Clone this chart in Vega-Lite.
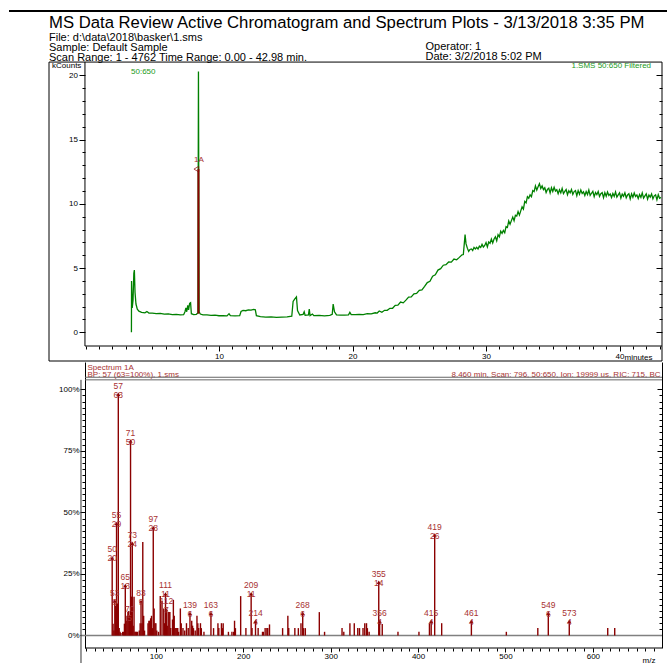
{
"$schema": "https://vega.github.io/schema/vega-lite/v6.json",
"padding": {"left": 8, "top": 10, "right": 0, "bottom": 0},
"spacing": 0,
"align": "each",
"config": {"font": "Liberation Sans", "view": {"stroke": null},
  "axis": {"labelFont": "Liberation Sans", "titleFont": "Liberation Sans", "labelColor": "black", "titleColor": "black", "tickColor": "black", "domainColor": "black", "grid": false, "labelOverlap": false, "labelBound": false, "labelFlush": false, "titleFontWeight": "normal", "labelFontSize": 8, "titleFontSize": 8, "tickWidth": 1}},
"datasets": {
"chrom": [
{"t":3.44,"k":0.0},{"t":3.45,"k":4.0},{"t":3.50,"k":1.9},{"t":3.56,"k":2.5},{"t":3.62,"k":4.6},{"t":3.66,"k":4.85},{"t":3.71,"k":3.1},{"t":3.78,"k":2.2},{"t":3.88,"k":1.8},{"t":4.0,"k":1.65},{"t":4.2,"k":1.55},{"t":4.45,"k":1.52},{"t":4.6,"k":1.62},{"t":4.75,"k":1.5},{"t":5.0,"k":1.5},{"t":5.3,"k":1.46},{"t":5.6,"k":1.48},{"t":5.9,"k":1.42},{"t":6.2,"k":1.43},{"t":6.5,"k":1.38},{"t":6.8,"k":1.4},{"t":7.1,"k":1.36},{"t":7.35,"k":1.37},{"t":7.45,"k":1.6},{"t":7.52,"k":1.9},{"t":7.58,"k":1.6},{"t":7.66,"k":2.1},{"t":7.72,"k":1.75},{"t":7.8,"k":2.25},{"t":7.87,"k":2.3},{"t":7.93,"k":1.45},{"t":8.1,"k":1.38},{"t":8.3,"k":1.4},{"t":8.42,"k":1.5},{"t":8.46,"k":20.3},{"t":8.51,"k":1.6},{"t":8.6,"k":1.42},{"t":8.8,"k":1.36},{"t":9.1,"k":1.35},{"t":9.4,"k":1.32},{"t":9.7,"k":1.33},{"t":10.0,"k":1.29},{"t":10.3,"k":1.3},{"t":10.6,"k":1.28},{"t":10.75,"k":1.45},{"t":10.85,"k":1.3},{"t":11.2,"k":1.28},{"t":11.55,"k":1.3},{"t":11.65,"k":1.62},{"t":11.8,"k":1.7},{"t":12.0,"k":1.68},{"t":12.2,"k":1.74},{"t":12.4,"k":1.72},{"t":12.6,"k":1.78},{"t":12.72,"k":1.75},{"t":12.8,"k":1.3},{"t":13.1,"k":1.22},{"t":13.5,"k":1.18},{"t":13.9,"k":1.2},{"t":14.3,"k":1.16},{"t":14.7,"k":1.18},{"t":15.1,"k":1.2},{"t":15.45,"k":1.25},{"t":15.55,"k":2.4},{"t":15.68,"k":2.6},{"t":15.8,"k":2.75},{"t":15.88,"k":1.7},{"t":16.05,"k":1.35},{"t":16.3,"k":1.4},{"t":16.38,"k":1.6},{"t":16.45,"k":1.32},{"t":16.7,"k":1.35},{"t":16.76,"k":1.8},{"t":16.82,"k":1.3},{"t":17.0,"k":1.42},{"t":17.1,"k":1.3},{"t":17.5,"k":1.32},{"t":17.9,"k":1.28},{"t":18.3,"k":1.32},{"t":18.48,"k":1.4},{"t":18.55,"k":2.2},{"t":18.65,"k":1.6},{"t":18.8,"k":1.36},{"t":19.1,"k":1.33},{"t":19.4,"k":1.34},{"t":19.7,"k":1.36},{"t":19.8,"k":1.55},{"t":19.9,"k":1.38},{"t":20.2,"k":1.37},{"t":20.5,"k":1.4},{"t":20.8,"k":1.38},{"t":21.1,"k":1.45},{"t":21.4,"k":1.43},{"t":21.7,"k":1.52},{"t":21.85,"k":1.5},
{"t":22.0,"k":1.66},{"t":22.2,"k":1.56},{"t":22.4,"k":1.71},{"t":22.6,"k":1.71},{"t":22.8,"k":1.87},{"t":23.0,"k":1.87},{"t":23.2,"k":2.10},{"t":23.4,"k":2.11},{"t":23.6,"k":2.35},{"t":23.8,"k":2.29},{"t":24.0,"k":2.50},{"t":24.2,"k":2.74},{"t":24.4,"k":2.76},{"t":24.6,"k":2.99},{"t":24.8,"k":3.03},{"t":25.0,"k":3.27},{"t":25.2,"k":3.30},{"t":25.4,"k":3.57},{"t":25.6,"k":3.87},{"t":25.8,"k":3.97},{"t":26.0,"k":4.37},{"t":26.2,"k":4.48},{"t":26.4,"k":4.84},{"t":26.6,"k":4.95},{"t":26.8,"k":5.22},{"t":27.0,"k":5.26},{"t":27.2,"k":5.47},{"t":27.4,"k":5.46},{"t":27.6,"k":5.70},{"t":27.8,"k":5.64},{"t":28.0,"k":5.83},{"t":28.2,"k":6.03},{"t":28.3,"k":6.05},{"t":28.38,"k":7.0},{"t":28.43,"k":7.6},{"t":28.5,"k":6.9},{"t":28.6,"k":6.55},{"t":28.7,"k":6.3},{"t":28.8,"k":6.45},
{"t":28.9,"k":6.49},{"t":29.0,"k":6.37},{"t":29.1,"k":6.61},{"t":29.2,"k":6.49},{"t":29.3,"k":6.61},{"t":29.4,"k":6.48},{"t":29.5,"k":6.70},{"t":29.6,"k":6.60},{"t":29.7,"k":6.84},{"t":29.8,"k":6.63},{"t":29.9,"k":6.76},{"t":30.0,"k":6.99},{"t":30.1,"k":6.65},{"t":30.2,"k":7.03},{"t":30.3,"k":6.93},{"t":30.4,"k":7.25},{"t":30.5,"k":6.95},{"t":30.6,"k":7.26},{"t":30.7,"k":7.43},{"t":30.8,"k":7.12},{"t":30.9,"k":7.60},{"t":31.0,"k":7.43},{"t":31.1,"k":7.87},{"t":31.2,"k":7.70},{"t":31.3,"k":7.93},{"t":31.4,"k":7.75},{"t":31.5,"k":8.23},{"t":31.6,"k":8.16},{"t":31.7,"k":8.67},{"t":31.8,"k":8.41},{"t":31.9,"k":8.69},{"t":32.0,"k":8.97},{"t":32.1,"k":8.68},{"t":32.2,"k":9.10},{"t":32.3,"k":9.04},{"t":32.4,"k":9.40},{"t":32.5,"k":9.12},{"t":32.6,"k":9.45},{"t":32.7,"k":9.76},{"t":32.8,"k":9.59},{"t":32.9,"k":10.19},{"t":33.0,"k":10.07},{"t":33.1,"k":10.55},{"t":33.2,"k":10.43},{"t":33.3,"k":10.70},{"t":33.4,"k":10.56},{"t":33.5,"k":11.03},{"t":33.6,"k":10.95},{"t":33.7,"k":11.39},{"t":33.8,"k":11.07},{"t":33.9,"k":11.33},{"t":34.0,"k":11.57},{"t":34.1,"k":11.19},{"t":34.2,"k":11.39},{"t":34.3,"k":11.11},{"t":34.4,"k":11.25},{"t":34.5,"k":10.88},{"t":34.6,"k":11.12},{"t":34.7,"k":11.22},{"t":34.8,"k":10.84},{"t":34.9,"k":11.25},{"t":35.0,"k":10.96},{"t":35.1,"k":11.28},{"t":35.2,"k":10.99},{"t":35.3,"k":11.09},{"t":35.4,"k":10.79},{"t":35.5,"k":11.09},{"t":35.6,"k":10.85},{"t":35.7,"k":11.20},{"t":35.8,"k":10.79},{"t":35.9,"k":10.96},{"t":36.0,"k":11.11},{"t":36.1,"k":10.71},{"t":36.2,"k":11.02},{"t":36.3,"k":10.86},{"t":36.4,"k":11.11},{"t":36.5,"k":10.73},{"t":36.6,"k":10.95},{"t":36.7,"k":11.03},{"t":36.8,"k":10.63},{"t":36.9,"k":11.03},{"t":37.0,"k":10.75},{"t":37.1,"k":11.08},{"t":37.2,"k":10.80},{"t":37.3,"k":10.93},{"t":37.4,"k":10.64},{"t":37.5,"k":10.95},{"t":37.6,"k":10.72},{"t":37.7,"k":11.07},{"t":37.8,"k":10.66},{"t":37.9,"k":10.82},{"t":38.0,"k":10.97},{"t":38.1,"k":10.56},{"t":38.2,"k":10.88},{"t":38.3,"k":10.71},{"t":38.4,"k":10.96},{"t":38.5,"k":10.57},{"t":38.6,"k":10.79},{"t":38.7,"k":10.87},{"t":38.8,"k":10.48},{"t":38.9,"k":10.87},{"t":39.0,"k":10.59},{"t":39.1,"k":10.92},{"t":39.2,"k":10.65},{"t":39.3,"k":10.77},{"t":39.4,"k":10.49},{"t":39.5,"k":10.80},{"t":39.6,"k":10.58},{"t":39.7,"k":10.93},{"t":39.8,"k":10.52},{"t":39.9,"k":10.69},{"t":40.0,"k":10.85},{"t":40.1,"k":10.44},{"t":40.2,"k":10.76},{"t":40.3,"k":10.59},{"t":40.4,"k":10.85},{"t":40.5,"k":10.47},{"t":40.6,"k":10.69},{"t":40.7,"k":10.78},{"t":40.8,"k":10.38},{"t":40.9,"k":10.78},{"t":41.0,"k":10.51},{"t":41.1,"k":10.84},{"t":41.2,"k":10.57},{"t":41.3,"k":10.69},{"t":41.4,"k":10.41},{"t":41.5,"k":10.72},{"t":41.6,"k":10.50},{"t":41.7,"k":10.85},{"t":41.8,"k":10.44},{"t":41.9,"k":10.61},{"t":42.0,"k":10.77},{"t":42.1,"k":10.36},{"t":42.2,"k":10.68},{"t":42.3,"k":10.52},{"t":42.4,"k":10.77},{"t":42.5,"k":10.39},{"t":42.6,"k":10.62},{"t":42.7,"k":10.70},{"t":42.8,"k":10.31},{"t":42.9,"k":10.71},{"t":43.0,"k":10.43},{"t":43.1,"k":10.5}
],
"spec": [
{"mz":50,"pct":31.5,"label":"50\n20"},{"mz":51,"pct":4.8},{"mz":52,"pct":2},{"mz":53,"pct":14,"label":"53\n9"},{"mz":54,"pct":12},{"mz":55,"pct":45.5,"label":"55\n29"},{"mz":56,"pct":13},{"mz":57,"pct":98,"label":"57\n63"},{"mz":58,"pct":3},{"mz":59,"pct":1.5},{"mz":60,"pct":1},{"mz":62,"pct":1.5},{"mz":63,"pct":1.5},{"mz":64,"pct":4.8},{"mz":65,"pct":20.3,"label":"65\n13"},{"mz":66,"pct":6},{"mz":67,"pct":8},{"mz":68,"pct":9.5},{"mz":69,"pct":10},{"mz":70,"pct":7.5,"label":"70\n5"},{"mz":71,"pct":79,"label":"71\n50"},{"mz":72,"pct":15.8},{"mz":73,"pct":37.5,"label":"73\n24"},{"mz":74,"pct":4},{"mz":75,"pct":15.7},{"mz":76,"pct":1.5},{"mz":77,"pct":1.5},{"mz":78,"pct":1.5},{"mz":79,"pct":1.5},{"mz":81,"pct":2},{"mz":82,"pct":5},{"mz":83,"pct":13.8,"label":"83\n9"},{"mz":84,"pct":5},{"mz":85,"pct":38},{"mz":86,"pct":8},{"mz":87,"pct":2},{"mz":91,"pct":5},{"mz":92,"pct":6},{"mz":93,"pct":6},{"mz":94,"pct":7},{"mz":95,"pct":8},{"mz":96,"pct":3},{"mz":97,"pct":43.8,"label":"97\n28"},{"mz":98,"pct":11},{"mz":99,"pct":5},{"mz":100,"pct":5},{"mz":101,"pct":2},{"mz":103,"pct":1.5},{"mz":105,"pct":16},{"mz":107,"pct":14},{"mz":109,"pct":11},{"mz":110,"pct":5},{"mz":111,"pct":16.9,"label":"111\n11"},{"mz":112,"pct":10.4,"label":"112\n7"},{"mz":113,"pct":4},{"mz":114,"pct":9.5},{"mz":115,"pct":9.5},{"mz":116,"pct":9.5},{"mz":117,"pct":3},{"mz":119,"pct":6.5},{"mz":120,"pct":14.5},{"mz":121,"pct":8},{"mz":122,"pct":3},{"mz":123,"pct":3},{"mz":124,"pct":3},{"mz":125,"pct":3},{"mz":126,"pct":1.5},{"mz":128,"pct":11},{"mz":129,"pct":5},{"mz":131,"pct":3},{"mz":133,"pct":2},{"mz":135,"pct":5},{"mz":137,"pct":3},{"mz":139,"pct":9,"label":"139\n6"},{"mz":141,"pct":6},{"mz":142,"pct":4},{"mz":143,"pct":3},{"mz":145,"pct":2},{"mz":147,"pct":8},{"mz":148,"pct":5},{"mz":149,"pct":3},{"mz":151,"pct":5},{"mz":152,"pct":3},{"mz":155,"pct":1.5},{"mz":163,"pct":9,"label":"163\n6"},{"mz":166,"pct":3},{"mz":171,"pct":5},{"mz":172,"pct":3},{"mz":175,"pct":5},{"mz":176,"pct":3},{"mz":177,"pct":5},{"mz":183,"pct":1.5},{"mz":187,"pct":1.5},{"mz":189,"pct":1.5},{"mz":190,"pct":6},{"mz":191,"pct":3},{"mz":197,"pct":16},{"mz":203,"pct":3},{"mz":209,"pct":17,"label":"209\n11"},{"mz":210,"pct":3},{"mz":214,"pct":5.8,"label":"214\n4"},{"mz":217,"pct":3},{"mz":222,"pct":1.5},{"mz":223,"pct":1.5},{"mz":225,"pct":3},{"mz":227,"pct":3},{"mz":228,"pct":3},{"mz":230,"pct":4.5},{"mz":245,"pct":3},{"mz":251,"pct":8},{"mz":252,"pct":3},{"mz":259,"pct":3},{"mz":263,"pct":3},{"mz":266,"pct":5},{"mz":268,"pct":9,"label":"268\n6"},{"mz":269,"pct":3},{"mz":271,"pct":3},{"mz":287,"pct":9.5},{"mz":293,"pct":1.5},{"mz":313,"pct":3},{"mz":315,"pct":1.5},{"mz":322,"pct":5},{"mz":327,"pct":5},{"mz":331,"pct":3},{"mz":333,"pct":3},{"mz":337,"pct":3},{"mz":339,"pct":5},{"mz":341,"pct":5},{"mz":342,"pct":3},{"mz":344,"pct":1.5},{"mz":355,"pct":21.6,"label":"355\n14"},{"mz":356,"pct":5.8,"label":"356\n4"},{"mz":359,"pct":4.7},{"mz":377,"pct":1.5},{"mz":401,"pct":1.5},{"mz":413,"pct":5},{"mz":415,"pct":5.8,"label":"415\n4"},{"mz":419,"pct":40.8,"label":"419\n26"},{"mz":427,"pct":5},{"mz":461,"pct":5.8,"label":"461\n4"},{"mz":501,"pct":1.5},{"mz":537,"pct":3},{"mz":549,"pct":9,"label":"549\n6"},{"mz":573,"pct":5.8,"label":"573\n4"},{"mz":617,"pct":3},{"mz":625,"pct":3}
]
},
"vconcat": [
{
 "width": 613, "height": 350,
 "title": {"text": "MS Data Review Active Chromatogram and Spectrum Plots - 3/13/2018 3:35 PM", "subtitle": ["File: d:\\data\\2018\\basker\\1.sms", "Sample: Default Sample", "Scan Range: 1 - 4762 Time Range: 0.00 - 42.98 min."], "anchor": "start", "frame": "group", "offset": -52.5, "font": "Liberation Sans", "fontSize": 16.7, "fontWeight": "normal", "color": "black", "subtitleFont": "Liberation Sans", "subtitleFontSize": 11, "subtitleColor": "black", "subtitleLineHeight": 10, "subtitlePadding": 0},
 "layer": [
  {"data": {"values": [{}]}, "mark": {"type": "rect", "fillOpacity": 0, "stroke": "black", "strokeWidth": 1},
   "encoding": {"x": {"datum": -2.734, "type": "quantitative", "axis": null}, "x2": {"datum": 43.18}, "y": {"datum": -2.233, "type": "quantitative", "axis": null}, "y2": {"datum": 21.03}}},
  {"data": {"values": [{}]}, "mark": {"type": "rule", "color": "black", "strokeWidth": 2},
   "encoding": {"x": {"datum": -5.73, "type": "quantitative", "axis": null}, "x2": {"datum": 43.63}, "y": {"datum": 25.004, "type": "quantitative", "axis": null}}},
  {"data": {"values": [{}]}, "mark": {"type": "rule", "color": "black", "strokeWidth": 1},
   "encoding": {"x": {"datum": -0.04, "type": "quantitative",
     "axis": {"orient": "bottom", "values": [0,1,2,3,4,5,6,7,8,9,10,11,12,13,14,15,16,17,18,19,20,21,22,23,24,25,26,27,28,29,30,31,32,33,34,35,36,37,38,39,40,41,42,43], "offset": -15, "domain": false, "labels": false, "tickSize": 3, "title": null}},
    "x2": {"datum": 43.18}, "y": {"datum": -1.066, "type": "quantitative", "axis": null}}},
  {"data": {"values": [{}]}, "mark": {"type": "rule", "color": "black", "strokeWidth": 1},
   "encoding": {"x": {"datum": -0.04, "type": "quantitative", "axis": null}, "y": {"datum": -1.066, "type": "quantitative", "axis": null}, "y2": {"datum": 21.03}}},
  {"data": {"name": "chrom"}, "mark": {"type": "line", "color": "#008000", "strokeWidth": 1.3},
   "encoding": {
    "x": {"field": "t", "type": "quantitative", "scale": {"domain": [-2.734, 43.18], "nice": false, "zero": false},
      "axis": {"orient": "bottom", "values": [10,20,30,40], "offset": -15, "domain": false, "tickSize": 5, "labelPadding": 1, "title": "minutes", "titleX": 603, "titleY": 13.5, "titleAlign": "right", "titleBaseline": "alphabetic"}},
    "y": {"field": "k", "type": "quantitative", "scale": {"domain": [-2.233, 25.004], "nice": false, "zero": false},
      "axis": {"orient": "left", "values": [0,1,2,3,4,5,6,7,8,9,10,11,12,13,14,15,16,17,18,19,20], "offset": -36, "domain": false, "labelExpr": "datum.value % 5 === 0 ? datum.label : ''", "tickSize": {"condition": {"test": "datum.value % 5 === 0", "value": 6}, "value": 3}, "labelPadding": 1.5, "title": "kCounts", "titleAngle": 0, "titleAlign": "left", "titleBaseline": "alphabetic", "titleX": -33.5, "titleY": 56.5}}
   }},
  {"data": {"values": [{}]}, "mark": {"type": "rule", "color": "#8b0000", "strokeWidth": 2},
   "encoding": {"x": {"datum": 8.46, "type": "quantitative", "axis": null}, "y": {"datum": 1.45, "type": "quantitative",
     "axis": {"orient": "right", "values": [0,1,2,3,4,5,6,7,8,9,10,11,12,13,14,15,16,17,18,19,20], "domain": false, "labels": false, "tickSize": {"condition": {"test": "datum.value % 5 === 0", "value": -6}, "value": -3}, "title": ["Operator: 1", "Date: 3/2/2018 5:02 PM"], "titleAngle": 0, "titleAlign": "left", "titleBaseline": "alphabetic", "titleX": -237, "titleY": 38.5, "titleFontSize": 11, "titleLineHeight": 10}},
    "y2": {"datum": 12.7}}},
  {"data": {"values": [{}]}, "mark": {"type": "point", "shape": "triangle-left", "filled": false, "color": "#8b0000", "size": 30, "strokeWidth": 1},
   "encoding": {"x": {"datum": 8.3, "type": "quantitative", "axis": null}, "y": {"datum": 12.7, "type": "quantitative", "axis": null}}},
  {"data": {"values": [{}]}, "mark": {"type": "text", "text": "1A", "color": "#a83232", "fontSize": 8, "align": "center", "baseline": "alphabetic"},
   "encoding": {"x": {"datum": 8.5, "type": "quantitative", "axis": null}, "y": {"datum": 13.25, "type": "quantitative", "axis": null}}},
  {"data": {"values": [{}]}, "mark": {"type": "text", "text": "50:650", "color": "#1a9a1a", "fontSize": 8, "align": "left", "baseline": "alphabetic"},
   "encoding": {"x": {"datum": 3.41, "type": "quantitative", "axis": null}, "y": {"datum": 20.1, "type": "quantitative", "axis": null}}},
  {"data": {"values": [{}]}, "mark": {"type": "text", "text": "1.SMS 50:650 Filtered", "color": "#1a9a1a", "fontSize": 8, "align": "right", "baseline": "alphabetic"},
   "encoding": {"x": {"datum": 42.36, "type": "quantitative", "axis": null}, "y": {"datum": 20.57, "type": "quantitative", "axis": null}}}
 ],
 "resolve": {"axis": {"y": "independent", "x": "independent"}}
},
{
 "width": 613, "height": 286,
 "layer": [
  {"data": {"values": [{}]}, "mark": {"type": "rule", "color": "#808080", "strokeWidth": 1.5},
   "encoding": {"x": {"datum": 14.3, "type": "quantitative", "axis": null}, "x2": {"datum": 679.1}, "y": {"datum": 0, "type": "quantitative",
     "axis": {"orient": "right", "values": [0,2.5,5,7.5,10,12.5,15,17.5,20,22.5,25,27.5,30,32.5,35,37.5,40,42.5,45,47.5,50,52.5,55,57.5,60,62.5,65,67.5,70,72.5,75,77.5,80,82.5,85,87.5,90,92.5,95,97.5,100], "domain": true, "labels": false, "tickSize": {"condition": {"test": "datum.value % 25 === 0", "value": -5}, "value": -3}, "title": "8.460 min, Scan: 796, 50:650, Ion: 19999 us, RIC: 715, BC", "titleAngle": 0, "titleAlign": "right", "titleBaseline": "alphabetic", "titleX": -2, "titleY": 14.5, "titleColor": "#a83232"}}}},
  {"data": {"values": [{}]}, "mark": {"type": "rule", "color": "#666666", "strokeWidth": 1},
   "encoding": {"x": {"datum": 18.9, "type": "quantitative", "axis": null}, "x2": {"datum": 679.1}, "y": {"datum": 104.9, "type": "quantitative", "axis": null}}},
  {"data": {"values": [{}]}, "mark": {"type": "rule", "color": "#666666", "strokeWidth": 1},
   "encoding": {"x": {"datum": 18.9, "type": "quantitative", "axis": null}, "x2": {"datum": 679.1}, "y": {"datum": 103.85, "type": "quantitative", "axis": null}}},
  {"data": {"values": [{}]}, "mark": {"type": "rule", "color": "#333333", "strokeWidth": 1},
   "encoding": {"x": {"datum": 14.3, "type": "quantitative", "axis": null}, "y": {"datum": 103.85, "type": "quantitative", "axis": null}, "y2": {"datum": -11.4}}},
  {"data": {"values": [{}]}, "mark": {"type": "rule", "color": "black", "strokeWidth": 1},
   "encoding": {"x": {"datum": 18.9, "type": "quantitative",
     "axis": {"orient": "bottom", "values": [20,30,40,50,60,70,80,90,100,110,120,130,140,150,160,170,180,190,200,210,220,230,240,250,260,270,280,290,300,310,320,330,340,350,360,370,380,390,400,410,420,430,440,450,460,470,480,490,500,510,520,530,540,550,560,570,580,590,600,610,620,630,640,650,660,670], "domain": false, "labels": false, "tickSize": 3, "title": null}},
    "x2": {"datum": 679.1}, "y": {"datum": -5.08, "type": "quantitative", "axis": null}}},
  {"data": {"name": "spec"}, "mark": {"type": "rule", "color": "#8b0000", "strokeWidth": 1.4},
   "encoding": {
    "x": {"field": "mz", "type": "quantitative", "scale": {"domain": [-22.3, 679.1], "nice": false, "zero": false},
      "axis": {"orient": "bottom", "values": [100,200,300,400,500,600], "domain": false, "tickSize": 4, "labelPadding": 0, "title": "m/z", "titleX": 606, "titleY": 14, "titleAlign": "right", "titleBaseline": "alphabetic"}},
    "y": {"field": "pct", "type": "quantitative", "scale": {"domain": [-5.08, 111.1], "nice": false, "zero": false},
      "axis": {"orient": "left", "values": [0,2.5,5,7.5,10,12.5,15,17.5,20,22.5,25,27.5,30,32.5,35,37.5,40,42.5,45,47.5,50,52.5,55,57.5,60,62.5,65,67.5,70,72.5,75,77.5,80,82.5,85,87.5,90,92.5,95,97.5,100], "offset": -36, "domain": true, "labelExpr": "datum.value % 25 === 0 ? datum.value + '%' : ''", "tickSize": {"condition": {"test": "datum.value % 25 === 0", "value": 5}, "value": 3}, "labelPadding": 1, "title": ["Spectrum 1A", "BP: 57 (63=100%), 1.sms"], "titleAngle": 0, "titleAlign": "left", "titleBaseline": "alphabetic", "titleX": 2, "titleY": 7, "titleColor": "#a83232", "titleLineHeight": 7.5}},
    "y2": {"datum": 0}
   }},
  {"data": {"name": "spec"}, "transform": [{"filter": "datum.label != null"}], "mark": {"type": "point", "shape": "triangle-up", "filled": true, "color": "#8b0000", "size": 16, "opacity": 1},
   "encoding": {"x": {"field": "mz", "type": "quantitative", "axis": null}, "y": {"field": "pct", "type": "quantitative", "axis": null}}},
  {"data": {"name": "spec"}, "transform": [{"filter": "datum.label != null"}], "mark": {"type": "text", "color": "#a83232", "fontSize": 8.5, "lineHeight": 9, "lineBreak": "\n", "align": "center", "baseline": "bottom", "dy": -3.5},
   "encoding": {"x": {"field": "mz", "type": "quantitative", "axis": null}, "y": {"field": "pct", "type": "quantitative", "axis": null}, "text": {"field": "label"}}}
 ],
 "resolve": {"axis": {"y": "independent", "x": "independent"}}
}
]
}
